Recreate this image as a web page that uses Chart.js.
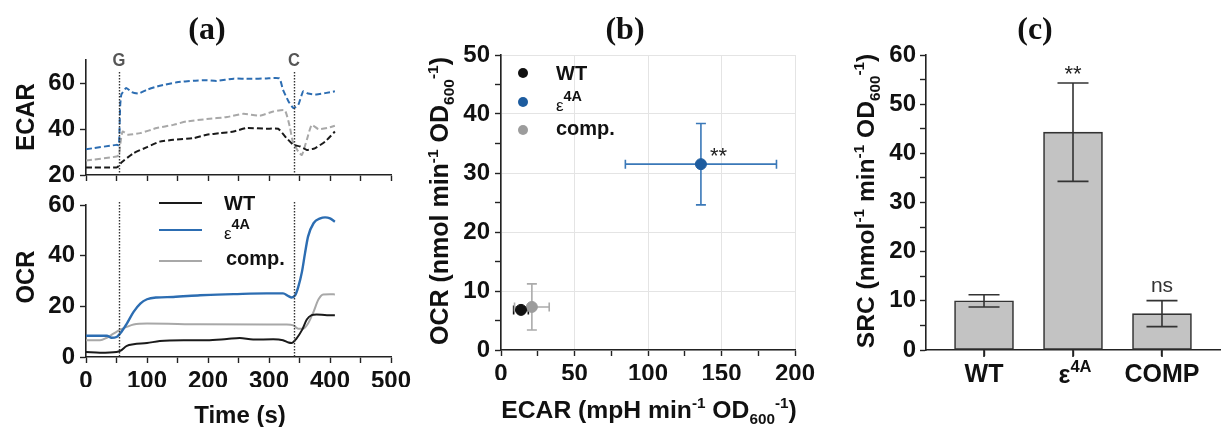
<!DOCTYPE html>
<html><head><meta charset="utf-8">
<script src="https://cdn.jsdelivr.net/npm/chart.js@4.4.1/dist/chart.umd.min.js"></script>
<style>
html,body{margin:0;padding:0;background:#fff;width:1221px;height:427px;overflow:hidden}
canvas{position:absolute;left:0;top:0}
</style></head><body>
<canvas id="cEcar" width="1221" height="427"></canvas>
<canvas id="cOcr" width="1221" height="427"></canvas>
<canvas id="cScat" width="1221" height="427"></canvas>
<canvas id="cBar" width="1221" height="427"></canvas>
<script>
// ---------------- DATA ----------------
// (a) ECAR time courses (dashed)
const ecarTimeWT   = [0,50,54,58,78,100,121,143,176,198,220,242,263,296,315,329,340,351,362,375,392,408];
const ecarWT       = [23.3,23.3,23.9,25.4,29.5,32.1,34.5,35.3,36,37.5,38.2,38.9,40.4,40.1,40.1,36,33.1,32.4,30.9,31.6,34.5,38.9];
const ecarTimeEps  = [0,50,54,56,58,66,75,86,100,121,149,176,198,214,242,269,296,317,323,332,340,348,356,364,378,392,408];
const ecarEps      = [31.2,33.1,33.0,50,55,57.8,56.0,55.4,57.1,58.8,60.3,61.0,61.2,60.9,61.9,61.8,62.0,62.0,57.0,52.0,49.1,50.5,56.4,55.4,55.0,55.6,56.4];
const ecarTimeComp = [0,50,54,57,60,69,89,116,143,165,198,231,258,285,307,326,334,339,348,354,362,370,381,395,408];
const ecarComp     = [26.3,28,28.7,35,38.9,37.5,38.2,40.4,41.8,43.3,44.3,45.2,46.6,45.8,47.6,48.1,41.1,34.5,30.2,28.7,35.3,41.8,39.9,40.4,41.4];
// (a) OCR time courses (solid)
const ocrTimeWT    = [0,23,50,56,67,78,100,121,160,198,231,252,274,307,323,332,337,345,354,362,370,378,395,408];
const ocrWT        = [2.0,1.7,2.0,2.4,4.4,5.0,5.5,6.3,6.6,6.6,7.1,7.5,6.9,7.0,6.6,5.7,5.5,7.3,10.6,14.8,16.5,16.8,16.5,16.5];
const ocrTimeEps   = [0,34,42,50,58,67,78,89,100,116,143,187,242,296,323,332,337,343,348,354,359,364,373,384,392,400,408];
const ocrEps       = [8.4,8.4,7.6,7.9,9.9,13.2,17.8,21.1,22.8,23.5,23.7,24.4,24.8,25.1,25.1,24,23.5,24.4,27.7,33.6,40.9,47.5,52.8,54.7,55.1,54.7,53.4];
const ocrTimeComp  = [0,23,34,45,56,67,78,100,187,296,329,340,348,356,364,373,381,389,400,408];
const ocrComp      = [6.6,6.6,7.6,9.2,10.8,11.9,12.8,13.2,12.9,12.8,12.8,12.5,11.2,11.2,13.2,17.8,22.7,24.7,24.8,24.7];
const injectTimes  = [54, 341];
const injectLabels = ['G', 'C'];
// (b) OCR vs ECAR (mean ± error)
const scatGroups = ['WT', 'ε4A', 'comp.'];
const scatECAR   = [13.6, 136, 21];
const scatECARerr= [5, 51.4, 11.8];
const scatOCR    = [6.8, 31.5, 7.3];
const scatOCRerr = [0, 6.9, 3.9];
// (c) SRC bars
const barLabels = ['WT', 'ε4A', 'COMP'];
const barSRC    = [10, 44.3, 7.4];
const barSRCerr = [1.25, 10, 2.65];
const barMarks  = ['', '**', 'ns'];

// ---------------- STYLE ----------------
const NF = "'Liberation Sans',Arial,Helvetica,sans-serif";
const SERIF = "'Liberation Serif','Times New Roman',serif";
const BLACK = '#1a1a1a', BLUE = '#2c6db2', GRAY = '#a8a8a8';
const AX = '#222';
Chart.defaults.color = '#111';
Chart.defaults.animation = false;

function pts(t, v) { return t.map((x, i) => ({ x, y: v[i] })); }

function drawRich(ctx, parts, x, y, o) {
  const size = o.size, fam = o.family || NF, sx = o.sx || 1;
  const fontOf = p => {
    const s = p.s === 'sup' || p.s === 'sub' ? size * (o.subScale || 0.62) : size * (p.scale || 1);
    const w = p.w || o.weight || 'bold';
    return w + ' ' + s.toFixed(1) + 'px ' + (p.f || fam);
  };
  ctx.save();
  ctx.translate(x, y);
  if (o.rotate) ctx.rotate(o.rotate);
  ctx.scale(sx, 1);
  let w = 0;
  parts.forEach(p => { ctx.font = fontOf(p); w += ctx.measureText(p.t).width; });
  let cx = o.align === 'left' ? 0 : -w / 2;
  ctx.fillStyle = o.color || '#111';
  ctx.textBaseline = 'alphabetic';
  ctx.textAlign = 'left';
  const base = 0.36 * size;
  parts.forEach(p => {
    ctx.font = fontOf(p);
    let dy = 0;
    if (p.s === 'sup') dy = -0.42 * size;
    if (p.s === 'sub') dy = 0.24 * size;
    if (p.dy) dy += p.dy * size;
    ctx.fillText(p.t, cx, base + dy);
    cx += ctx.measureText(p.t).width;
  });
  ctx.restore();
}
const EPS_LEGEND = [{ t: 'ε', w: 'normal', scale: 0.85, dy: 0.06 }, { t: '4A', s: 'sup', dy: -0.03 }];

function axisCommon(extra) {
  return Object.assign({
    type: 'linear',
    border: { display: true, color: AX, width: 1.6 },
    grid: { display: true, drawOnChartArea: false, drawTicks: true, offset: false, tickLength: 6, tickColor: AX, tickWidth: 1.4 },
  }, extra);
}
const tickFont = { family: NF, size: 24, weight: 'bold' };
const base = { responsive: false, animation: false, events: [], plugins: { legend: { display: false }, tooltip: { enabled: false } } };

// ---------------- (a) ECAR ----------------
const ecarPlugin = {
  id: 'ecarDeco',
  afterDraw(chart) {
    const ctx = chart.ctx, xs = chart.scales.x, a = chart.chartArea;
    ctx.save();
    ctx.strokeStyle = '#333'; ctx.lineWidth = 1.4; ctx.setLineDash([1.5, 1.5]);
    injectTimes.forEach((t, i) => {
      const px = Math.round(xs.getPixelForValue(t)) + 0.5;
      ctx.beginPath(); ctx.moveTo(px, a.top + 12); ctx.lineTo(px, a.bottom); ctx.stroke();
    });
    ctx.restore();
    injectTimes.forEach((t, i) => {
      drawRich(ctx, [{ t: injectLabels[i] }], xs.getPixelForValue(t), a.top, { size: 18, color: '#555', sx: 0.92 });
    });
    drawRich(ctx, [{ t: 'ECAR' }], 25, 117, { size: 25, rotate: -Math.PI / 2, sx: 0.95 });
    drawRich(ctx, [{ t: '(a)' }], 207, 27, { size: 32, family: SERIF });
  }
};
new Chart(document.getElementById('cEcar'), {
  type: 'line',
  data: { datasets: [
    { data: pts(ecarTimeWT, ecarWT), borderColor: BLACK },
    { data: pts(ecarTimeEps, ecarEps), borderColor: BLUE },
    { data: pts(ecarTimeComp, ecarComp), borderColor: GRAY },
  ].map(d => Object.assign(d, { borderWidth: 2, borderDash: [6, 3], pointRadius: 0, tension: 0.15, fill: false })) },
  options: Object.assign({}, base, {
    layout: { padding: { left: 0, top: 60, right: 830, bottom: 242 } },
    scales: {
      x: axisCommon({ min: 0, max: 500, ticks: { stepSize: 50, display: false }, afterFit: s => { s.height = 10; } }),
      y: axisCommon({ min: 20, max: 70, ticks: { stepSize: 10, font: tickFont, padding: 5, callback: v => v % 20 === 0 ? v : '' }, afterFit: s => { s.width = 86; } }),
    }
  }),
  plugins: [ecarPlugin]
});

// ---------------- (a) OCR ----------------
const ocrPlugin = {
  id: 'ocrDeco',
  afterDraw(chart) {
    const ctx = chart.ctx, xs = chart.scales.x, a = chart.chartArea;
    ctx.save();
    ctx.strokeStyle = '#333'; ctx.lineWidth = 1.4; ctx.setLineDash([1.5, 1.5]);
    injectTimes.forEach(t => {
      const px = Math.round(xs.getPixelForValue(t)) + 0.5;
      ctx.beginPath(); ctx.moveTo(px, a.top - 3); ctx.lineTo(px, a.bottom); ctx.stroke();
    });
    ctx.setLineDash([]);
    const ly = [203, 230, 261], cols = [BLACK, BLUE, GRAY];
    ly.forEach((y, i) => {
      ctx.strokeStyle = cols[i]; ctx.lineWidth = 2;
      ctx.beginPath(); ctx.moveTo(159, y); ctx.lineTo(202, y); ctx.stroke();
    });
    ctx.restore();
    drawRich(ctx, [{ t: 'WT' }], 224, 203, { size: 20, align: 'left' });
    drawRich(ctx, EPS_LEGEND, 224, 231, { size: 20, align: 'left', subScale: 0.72 });
    drawRich(ctx, [{ t: 'comp.' }], 226, 258, { size: 20, align: 'left' });
    drawRich(ctx, [{ t: 'OCR' }], 25, 277, { size: 25, rotate: -Math.PI / 2, sx: 0.95 });
    drawRich(ctx, [{ t: 'Time (s)' }], 240, 414, { size: 24 });
  }
};
new Chart(document.getElementById('cOcr'), {
  type: 'line',
  data: { datasets: [
    { data: pts(ocrTimeWT, ocrWT), borderColor: BLACK, borderWidth: 2 },
    { data: pts(ocrTimeEps, ocrEps), borderColor: BLUE, borderWidth: 2.4 },
    { data: pts(ocrTimeComp, ocrComp), borderColor: GRAY, borderWidth: 2 },
  ].map(d => Object.assign(d, { pointRadius: 0, cubicInterpolationMode: 'monotone', fill: false })) },
  options: Object.assign({}, base, {
    layout: { padding: { left: 0, top: 205, right: 830, bottom: 40 } },
    scales: {
      x: axisCommon({ min: 0, max: 500, ticks: { stepSize: 50, autoSkip: false, maxRotation: 0, font: tickFont, padding: 4, callback: v => v % 100 === 0 ? v : '' }, afterFit: s => { s.height = 30; } }),
      y: axisCommon({ min: 0, max: 60, ticks: { stepSize: 10, font: tickFont, padding: 5, callback: v => v % 20 === 0 ? v : '' }, afterFit: s => { s.width = 86; } }),
    }
  }),
  plugins: [ocrPlugin]
});

// ---------------- (b) scatter ----------------
const scatCols = ['#111111', '#1d5c9f', '#9c9c9c'];
const scatErrCols = ['#111111', '#3a78b8', '#ababab'];
const scatPlugin = {
  id: 'scatDeco',
  beforeDatasetsDraw(chart) {
    const ctx = chart.ctx, xs = chart.scales.x, ys = chart.scales.y;
    ctx.save(); ctx.lineWidth = 1.6;
    scatECAR.forEach((xv, i) => {
      const cx = xs.getPixelForValue(xv), cy = ys.getPixelForValue(scatOCR[i]);
      ctx.strokeStyle = scatErrCols[i];
      const x0 = xs.getPixelForValue(xv - scatECARerr[i]), x1 = xs.getPixelForValue(xv + scatECARerr[i]);
      ctx.beginPath(); ctx.moveTo(x0, cy); ctx.lineTo(x1, cy);
      ctx.moveTo(x0, cy - 4.5); ctx.lineTo(x0, cy + 4.5); ctx.moveTo(x1, cy - 4.5); ctx.lineTo(x1, cy + 4.5); ctx.stroke();
      if (scatOCRerr[i] > 0) {
        const y0 = ys.getPixelForValue(scatOCR[i] - scatOCRerr[i]), y1 = ys.getPixelForValue(scatOCR[i] + scatOCRerr[i]);
        ctx.beginPath(); ctx.moveTo(cx, y0); ctx.lineTo(cx, y1);
        ctx.moveTo(cx - 5, y0); ctx.lineTo(cx + 5, y0); ctx.moveTo(cx - 5, y1); ctx.lineTo(cx + 5, y1); ctx.stroke();
      }
    });
    ctx.restore();
  },
  afterDraw(chart) {
    const ctx = chart.ctx, xs = chart.scales.x, ys = chart.scales.y;
    drawRich(ctx, [{ t: '**', w: 'normal' }], xs.getPixelForValue(148), ys.getPixelForValue(33.0), { size: 22, color: '#222' });
    ctx.save();
    const ly = [73, 102, 130];
    ly.forEach((y, i) => { ctx.fillStyle = scatCols[i]; ctx.beginPath(); ctx.arc(523, y, 5, 0, Math.PI * 2); ctx.fill(); });
    ctx.restore();
    drawRich(ctx, [{ t: 'WT' }], 556, 73, { size: 20, align: 'left' });
    drawRich(ctx, EPS_LEGEND, 556, 103, { size: 20, align: 'left', subScale: 0.72 });
    drawRich(ctx, [{ t: 'comp.' }], 556, 128, { size: 20, align: 'left' });
    drawRich(ctx, [{ t: 'OCR (nmol min' }, { t: '-1', s: 'sup' }, { t: ' OD' }, { t: '600', s: 'sub' }, { t: '-1', s: 'sup' }, { t: ')' }], 439, 201, { size: 25, rotate: -Math.PI / 2 });
    drawRich(ctx, [{ t: 'ECAR (mpH min' }, { t: '-1', s: 'sup' }, { t: ' OD' }, { t: '600', s: 'sub' }, { t: '-1', s: 'sup' }, { t: ')' }], 649, 409, { size: 24.7 });
    drawRich(ctx, [{ t: '(b)' }], 625, 27, { size: 32, family: SERIF });
  }
};
const gridCol = (step) => (c) => (c.tick && Math.round(c.tick.value) % step === 0) ? '#e4e4e4' : 'rgba(0,0,0,0)';
new Chart(document.getElementById('cScat'), {
  type: 'scatter',
  data: { datasets: scatECAR.map((x, i) => ({ label: scatGroups[i], data: [{ x, y: scatOCR[i] }], backgroundColor: scatCols[i], borderColor: scatCols[i], pointRadius: 5.5 })) },
  options: Object.assign({}, base, {
    layout: { padding: { left: 400, top: 55, right: 426, bottom: 47 } },
    scales: {
      x: { type: 'linear', min: 0, max: 200, border: { display: true, color: AX, width: 1.6 },
           grid: { color: gridCol(50), lineWidth: 1, drawTicks: true, tickLength: 6, tickColor: AX, tickWidth: 1.4 },
           ticks: { stepSize: 25, autoSkip: false, maxRotation: 0, font: tickFont, padding: 4, callback: v => v % 50 === 0 ? v : '' }, afterFit: s => { s.height = 30; } },
      y: { type: 'linear', min: 0, max: 50, border: { display: true, color: AX, width: 1.6 },
           grid: { color: gridCol(10), lineWidth: 1, drawTicks: true, tickLength: 6, tickColor: AX, tickWidth: 1.4 },
           ticks: { stepSize: 5, autoSkip: false, font: tickFont, padding: 5, callback: v => v % 10 === 0 ? v : '' }, afterFit: s => { s.width = 101; } },
    }
  }),
  plugins: [scatPlugin]
});

// ---------------- (c) bars ----------------
const barPlugin = {
  id: 'barDeco',
  afterDatasetsDraw(chart) {
    const ctx = chart.ctx, xs = chart.scales.x, ys = chart.scales.y;
    ctx.save(); ctx.strokeStyle = '#333'; ctx.lineWidth = 1.6;
    barSRC.forEach((v, i) => {
      const cx = xs.getPixelForValue(i);
      const y0 = ys.getPixelForValue(v - barSRCerr[i]), y1 = ys.getPixelForValue(v + barSRCerr[i]);
      ctx.beginPath(); ctx.moveTo(cx, y0); ctx.lineTo(cx, y1);
      ctx.moveTo(cx - 15.5, y0); ctx.lineTo(cx + 15.5, y0); ctx.moveTo(cx - 15.5, y1); ctx.lineTo(cx + 15.5, y1); ctx.stroke();
    });
    ctx.restore();
    barSRC.forEach((v, i) => {
      if (!barMarks[i]) return;
      const cx = xs.getPixelForValue(i), y1 = ys.getPixelForValue(v + barSRCerr[i]);
      if (barMarks[i] === 'ns') drawRich(ctx, ['ns'].map(t => ({ t, w: 'normal' })), cx, y1 - 16, { size: 21, color: '#333' });
      else drawRich(ctx, [{ t: '**', w: 'normal' }], cx, y1 - 10, { size: 22, color: '#222' });
    });
  },
  afterDraw(chart) {
    const ctx = chart.ctx, xs = chart.scales.x, bottom = chart.chartArea.bottom;
    ctx.save(); ctx.fillStyle = AX;
    barLabels.forEach((l, i) => {
      const cx = Math.round(xs.getPixelForValue(i));
      ctx.fillRect(cx - 0.8, bottom, 1.6, 7);
    });
    ctx.restore();
    barLabels.forEach((l, i) => {
      const cx = xs.getPixelForValue(i);
      if (l === 'ε4A') drawRich(ctx, [{ t: 'ε', dy: 0.04 }, { t: '4A', s: 'sup', dy: 0.02 }], cx + 2, 373, { size: 25, subScale: 0.66 });
      else drawRich(ctx, [{ t: l }], cx, 373, { size: 25 });
    });
    drawRich(ctx, [{ t: 'SRC (nmol' }, { t: '-1', s: 'sup' }, { t: ' min' }, { t: '-1', s: 'sup' }, { t: ' OD' }, { t: '600', s: 'sub' }, { t: '-1', s: 'sup' }, { t: ')' }], 865, 201, { size: 24.6, rotate: -Math.PI / 2 });
    drawRich(ctx, [{ t: '(c)' }], 1035, 27, { size: 32, family: SERIF });
  }
};
new Chart(document.getElementById('cBar'), {
  type: 'bar',
  data: { datasets: [{ data: barSRC.map((y, i) => ({ x: i, y })), backgroundColor: '#c3c3c3', borderColor: '#333', borderWidth: 1.6, borderSkipped: false, barThickness: 59 }] },
  options: Object.assign({}, base, {
    layout: { padding: { left: 820, top: 55, right: 1, bottom: 47 } },
    scales: {
      x: axisCommon({ min: -0.652, max: 2.652, offset: false, ticks: { display: false }, afterBuildTicks: s => { s.ticks = barLabels.map((_, i) => ({ value: i })); }, afterFit: s => { s.height = 30; } }),
      y: axisCommon({ min: 0, max: 60, ticks: { stepSize: 5, autoSkip: false, font: tickFont, padding: 4, callback: v => v % 10 === 0 ? v : '' }, afterFit: s => { s.width = 106; } }),
    }
  }),
  plugins: [barPlugin]
});
</script>
</body></html>
